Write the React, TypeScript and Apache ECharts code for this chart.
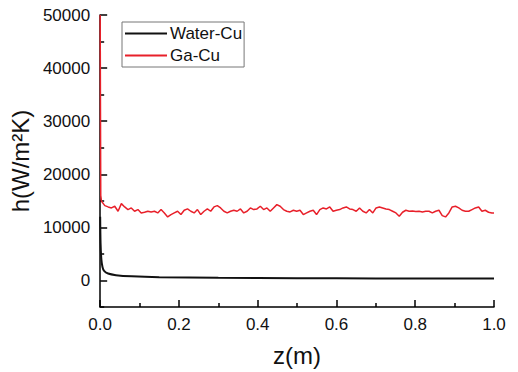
import React, { useEffect, useRef } from "react";
import * as echarts from "echarts";

const seriesNames = ["Water-Cu", "Ga-Cu"];

// Water-Cu: [z, h]
const waterZ = [0, 0.001, 0.003, 0.006, 0.01, 0.02, 0.04, 0.08, 0.15, 0.3, 0.5, 0.7, 1.0];
const waterH = [12000, 7000, 4000, 2500, 1800, 1300, 1000, 780, 620, 500, 430, 390, 350];

// Ga-Cu: entrance spike then noisy plateau
const gaSpikeZ = [0, 0.0015];
const gaSpikeH = [50000, 16000];
const gaStartZ = 0.0034;
const gaStepZ = 0.0084;
const gaH = [
  14915, 14100, 13849, 13661, 13975, 13034, 14476, 13849, 13348, 13661,
  13034, 13348, 12721, 12846, 13034, 12909, 13034, 12721, 13348, 12721,
  11969, 12408, 12721, 13034, 12408, 13222, 13473, 13034, 12721, 13348,
  12408, 13034, 13473, 13034, 13849, 14100, 13661, 13034, 12721, 13034,
  13222, 13034, 13473, 12721, 13034, 13661, 13348, 13473, 13975, 13348,
  13661, 13034, 13661, 14288, 13975, 13348, 13034, 12909, 13222, 13034,
  13222, 12408, 12721, 13034, 13222, 12408, 13348, 13661, 13473, 13849,
  13034, 13222, 13348, 13661, 13849, 13473, 13348, 13034, 13661, 13034,
  12721, 13348, 12721, 13661, 13849, 13661, 13473, 13348, 13034, 12721,
  12095, 12846, 13222, 13034, 13097, 12972, 13034, 12909, 13034, 13034,
  12721, 13034, 13222, 12220, 11969, 12721, 13849, 13975, 13661, 13222,
  13034, 13034, 13348, 13661, 13849, 13034, 13222, 12846, 12721,
];
const gaEnd = [1.0, 12721];

const yMajorTicks = [0, 10000, 20000, 30000, 40000, 50000];
const yMinorTicks = [-5000, 5000, 15000, 25000, 35000, 45000];
const xTicks = [0, 0.2, 0.4, 0.6, 0.8, 1.0];

const FONT = "'Liberation Sans', Arial, sans-serif";

export default function App() {
  const ref = useRef<HTMLDivElement>(null);
  useEffect(() => {
    if (!ref.current) return;
    const chart = echarts.init(ref.current, null, { renderer: "svg" });
    const waterData = waterZ.map((z, i) => [z, waterH[i]]);
    const gaData: number[][] = gaSpikeZ.map((z, i) => [z, gaSpikeH[i]]);
    gaH.forEach((h, i) => gaData.push([gaStartZ + gaStepZ * i, h]));
    gaData.push(gaEnd);

    const axisLine = { show: true, onZero: false, lineStyle: { color: "#000", width: 1.5 } };
    const tickStyle = { color: "#000", width: 1.5 };
    chart.setOption({
      animation: false,
      backgroundColor: "#fff",
      grid: { left: 97, right: 24, top: 15, bottom: 65 },
      legend: {
        orient: "vertical",
        left: 122,
        top: 22,
        data: seriesNames.map((n, i) => ({ name: n, icon: "rect", itemStyle: { color: i === 0 ? "#111" : "#e8202a" } })),
        borderColor: "#777",
        borderWidth: 1,
        padding: [3, 2, 3, 3],
        itemGap: 5,
        itemWidth: 42,
        itemHeight: 2,
        textStyle: { fontFamily: FONT, fontSize: 17, color: "#111", padding: [0, 0, 0, -2], lineHeight: 17 },
      },
      xAxis: {
        type: "value",
        min: 0,
        max: 1,
        interval: 0.2,
        name: "z(m)",
        nameLocation: "middle",
        nameGap: 36,
        nameTextStyle: { fontFamily: FONT, fontSize: 24, color: "#111" },
        axisLine,
        axisTick: { show: true, inside: true, length: 7, lineStyle: tickStyle, customValues: xTicks },
        minorTick: { show: true, splitNumber: 2, length: 4, lineStyle: tickStyle },
        splitLine: { show: false },
        axisLabel: {
          fontFamily: FONT,
          fontSize: 17,
          color: "#111",
          margin: 9,
          customValues: xTicks,
          formatter: (v: number) => v.toFixed(1),
        },
      },
      yAxis: [
        {
          type: "value",
          min: -5000,
          max: 50000,
          interval: 5000,
          name: "h(W/m²K)",
          nameLocation: "middle",
          nameGap: 65,
          nameTextStyle: { fontFamily: FONT, fontSize: 24, color: "#111" },
          axisLine,
          axisTick: { show: true, inside: true, length: 7, lineStyle: tickStyle, customValues: yMajorTicks },
          splitLine: { show: false },
          axisLabel: {
            fontFamily: FONT,
            fontSize: 17,
            color: "#111",
            margin: 10,
            customValues: yMajorTicks,
            formatter: (v: number) => String(v),
          },
        },
        {
          type: "value",
          position: "left",
          offset: 0,
          min: -5000,
          max: 50000,
          interval: 5000,
          axisLine: { show: false, onZero: false },
          axisTick: { show: true, inside: true, length: 4, lineStyle: tickStyle, customValues: yMinorTicks },
          axisLabel: { show: false },
          splitLine: { show: false },
        },
      ],
      series: [
        {
          name: seriesNames[0],
          type: "line",
          data: waterData,
          smooth: 0.3,
          showSymbol: false,
          symbol: "none",
          lineStyle: { color: "#111", width: 2 },
          itemStyle: { color: "#111" },
          z: 2,
        },
        {
          name: seriesNames[1],
          type: "line",
          data: gaData,
          showSymbol: false,
          symbol: "none",
          lineStyle: { color: "#e8202a", width: 1.5 },
          itemStyle: { color: "#e8202a" },
          z: 3,
        },
      ],
    });
    return () => chart.dispose();
  }, []);
  return <div ref={ref} style={{ width: 518, height: 372, position: "absolute", left: 0, top: 0 }} />;
}
